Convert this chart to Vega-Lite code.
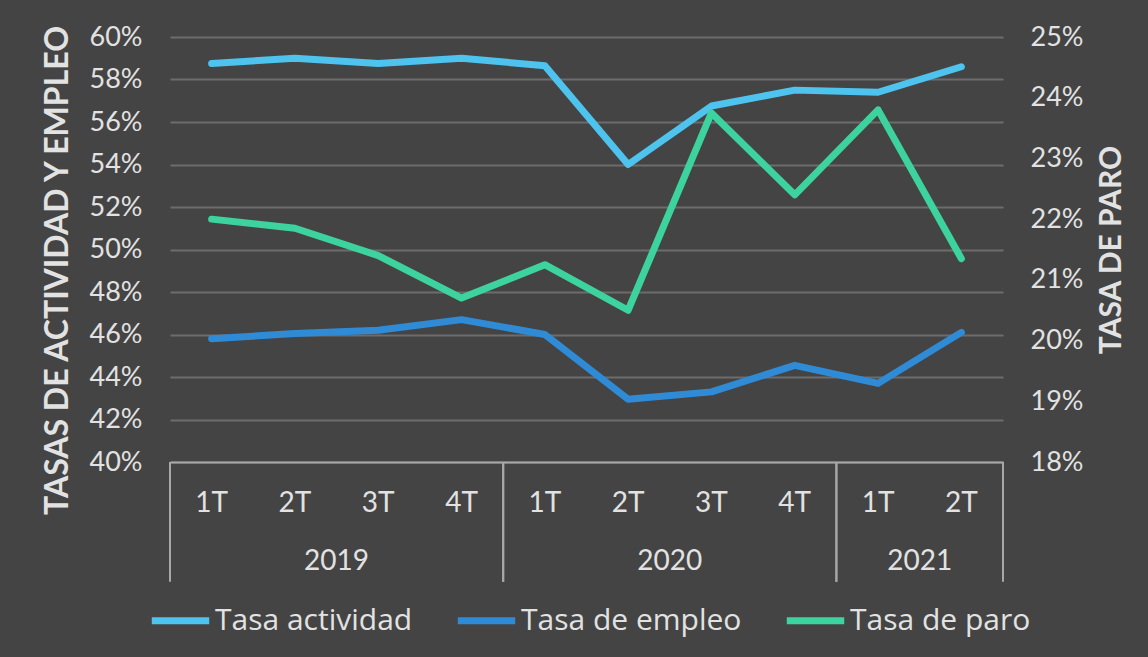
{
  "$schema": "https://vega.github.io/schema/vega-lite/v6.json",
  "width": 833,
  "height": 425,
  "autosize": {"type": "none"},
  "padding": {"left": 170, "top": 37, "right": 145, "bottom": 195},
  "background": "#444444",
  "config": {
    "view": {"stroke": null},
    "font": "Lato",
    "axis": {"labelFont": "Lato", "titleFont": "Lato", "labelColor": "#e2e2e2", "titleColor": "#e2e2e2"},
    "legend": {"labelFont": "Open Sans", "labelColor": "#e2e2e2"}
  },
  "datasets": {
    "series": [
      {"periodo": "2019-1T", "serie": "Tasa actividad", "valor": 58.75},
      {"periodo": "2019-2T", "serie": "Tasa actividad", "valor": 59.0},
      {"periodo": "2019-3T", "serie": "Tasa actividad", "valor": 58.75},
      {"periodo": "2019-4T", "serie": "Tasa actividad", "valor": 59.0},
      {"periodo": "2020-1T", "serie": "Tasa actividad", "valor": 58.65},
      {"periodo": "2020-2T", "serie": "Tasa actividad", "valor": 54.0},
      {"periodo": "2020-3T", "serie": "Tasa actividad", "valor": 56.75},
      {"periodo": "2020-4T", "serie": "Tasa actividad", "valor": 57.5},
      {"periodo": "2021-1T", "serie": "Tasa actividad", "valor": 57.4},
      {"periodo": "2021-2T", "serie": "Tasa actividad", "valor": 58.6},
      {"periodo": "2019-1T", "serie": "Tasa de empleo", "valor": 45.8},
      {"periodo": "2019-2T", "serie": "Tasa de empleo", "valor": 46.05},
      {"periodo": "2019-3T", "serie": "Tasa de empleo", "valor": 46.2},
      {"periodo": "2019-4T", "serie": "Tasa de empleo", "valor": 46.7},
      {"periodo": "2020-1T", "serie": "Tasa de empleo", "valor": 46.0},
      {"periodo": "2020-2T", "serie": "Tasa de empleo", "valor": 42.95},
      {"periodo": "2020-3T", "serie": "Tasa de empleo", "valor": 43.3},
      {"periodo": "2020-4T", "serie": "Tasa de empleo", "valor": 44.55},
      {"periodo": "2021-1T", "serie": "Tasa de empleo", "valor": 43.7},
      {"periodo": "2021-2T", "serie": "Tasa de empleo", "valor": 46.1},
      {"periodo": "2019-1T", "serie": "Tasa de paro", "valor": 22.0},
      {"periodo": "2019-2T", "serie": "Tasa de paro", "valor": 21.85},
      {"periodo": "2019-3T", "serie": "Tasa de paro", "valor": 21.4},
      {"periodo": "2019-4T", "serie": "Tasa de paro", "valor": 20.7},
      {"periodo": "2020-1T", "serie": "Tasa de paro", "valor": 21.25},
      {"periodo": "2020-2T", "serie": "Tasa de paro", "valor": 20.5},
      {"periodo": "2020-3T", "serie": "Tasa de paro", "valor": 23.75},
      {"periodo": "2020-4T", "serie": "Tasa de paro", "valor": 22.4},
      {"periodo": "2021-1T", "serie": "Tasa de paro", "valor": 23.8},
      {"periodo": "2021-2T", "serie": "Tasa de paro", "valor": 21.35}
    ],
    "anios": [
      {"anio": "2019", "desde": "2019-1T", "hasta": "2019-4T", "centro": "2019-2T"},
      {"anio": "2020", "desde": "2020-1T", "hasta": "2020-4T", "centro": "2020-2T"},
      {"anio": "2021", "desde": "2021-1T", "hasta": "2021-2T", "centro": "2021-1T"}
    ]
  },
  "layer": [
    {
      "layer": [
        {
          "data": {"name": "series"},
          "transform": [{"filter": "datum.serie !== 'Tasa de paro'"}],
          "mark": {"type": "line", "strokeWidth": 7, "strokeCap": "round", "strokeJoin": "round"},
          "encoding": {
            "x": {
              "field": "periodo", "type": "nominal", "bandPosition": 0.5,
              "sort": ["2019-1T","2019-2T","2019-3T","2019-4T","2020-1T","2020-2T","2020-3T","2020-4T","2021-1T","2021-2T"],
              "scale": {"type": "band", "paddingInner": 0, "paddingOuter": 0,
                "domain": ["2019-1T","2019-2T","2019-3T","2019-4T","2020-1T","2020-2T","2020-3T","2020-4T","2021-1T","2021-2T"]},
              "axis": {"title": null, "labelExpr": "split(datum.value, '-')[1]", "labelAngle": 0,
                "labelFontSize": 28, "labelPadding": 41, "labelBaseline": "middle", "ticks": false,
                "domainColor": "#a8a8a8", "domainWidth": 2, "grid": false}
            },
            "y": {
              "field": "valor", "type": "quantitative",
              "scale": {"domain": [40, 60], "nice": false, "zero": false},
              "axis": {"title": "TASAS DE ACTIVIDAD Y EMPLEO", "titleFontSize": 32, "titleFontWeight": "bold",
                "titlePadding": 15, "titleY": 233, "values": [40,42,44,46,48,50,52,54,56,58,60],
                "labelExpr": "datum.value + '%'", "labelFontSize": 27, "labelPadding": 28,
                "ticks": false, "domain": false, "grid": true, "gridColor": "#6c6c6c", "gridWidth": 2}
            },
            "color": {
              "field": "serie", "type": "nominal",
              "scale": {"domain": ["Tasa actividad", "Tasa de empleo", "Tasa de paro"],
                "range": ["#4ec3ee", "#2f8bd6", "#3dd39f"]},
              "legend": {"title": null, "orient": "none", "direction": "horizontal",
                "legendX": -22, "legendY": 551, "symbolType": "stroke", "symbolSize": 3300,
                "symbolStrokeWidth": 7, "labelFontSize": 30, "labelOffset": 2, "columnPadding": 30,
                "labelLimit": 0}
            }
          }
        },
        {
          "data": {"name": "anios"},
          "mark": {"type": "rule", "color": "#a8a8a8", "strokeWidth": 2},
          "encoding": {
            "x": {"field": "desde", "type": "nominal", "bandPosition": 0},
            "y": {"datum": 40, "type": "quantitative"},
            "y2": {"datum": 34.36}
          }
        },
        {
          "data": {"name": "anios"},
          "mark": {"type": "rule", "color": "#a8a8a8", "strokeWidth": 2},
          "encoding": {
            "x": {"field": "hasta", "type": "nominal", "bandPosition": 1},
            "y": {"datum": 40, "type": "quantitative"},
            "y2": {"datum": 34.36}
          }
        },
        {
          "data": {"name": "anios"},
          "mark": {"type": "text", "fontSize": 28, "color": "#e2e2e2", "baseline": "middle", "align": "center"},
          "encoding": {
            "x": {"field": "centro", "type": "nominal", "bandPosition": 1},
            "y": {"datum": 35.3, "type": "quantitative"},
            "text": {"field": "anio"}
          }
        }
      ]
    },
    {
      "data": {"name": "series"},
      "transform": [{"filter": "datum.serie === 'Tasa de paro'"}],
      "mark": {"type": "line", "strokeWidth": 7, "strokeCap": "round", "strokeJoin": "round"},
      "encoding": {
        "x": {"field": "periodo", "type": "nominal", "bandPosition": 0.5},
        "y": {
          "field": "valor", "type": "quantitative",
          "scale": {"domain": [18, 25], "nice": false, "zero": false},
          "axis": {"orient": "right", "title": "TASA DE PARO", "titleFontSize": 30, "titleFontWeight": "bold",
            "titlePadding": 44, "titleAngle": 270, "values": [18,19,20,21,22,23,24,25],
            "labelExpr": "datum.value + '%'", "labelFontSize": 27, "labelPadding": 27,
            "ticks": false, "domain": false, "grid": false}
        },
        "color": {"field": "serie", "type": "nominal"}
      }
    }
  ],
  "resolve": {"scale": {"y": "independent"}}
}
